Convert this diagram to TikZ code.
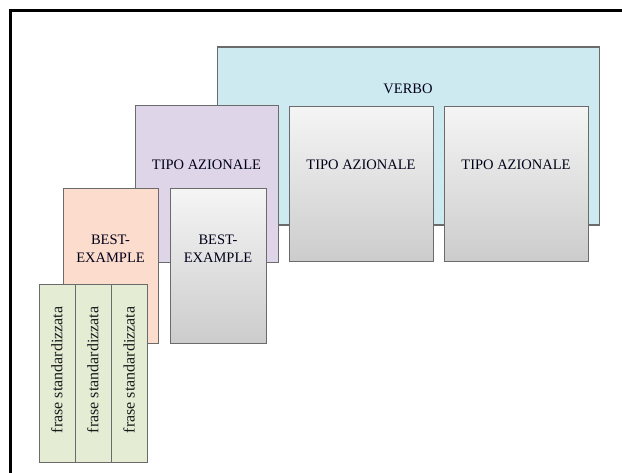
\documentclass[tikz,border=0pt]{standalone}
\usepackage{fontspec}
\setmainfont{Liberation Serif}
\begin{document}
\begin{tikzpicture}[x=1pt,y=-1pt,
  box/.style={draw=black!58, line width=1.2pt, anchor=north west, inner sep=0pt},
  graybox/.style={box, top color=black!4, bottom color=black!20, shading angle=0},
  lbl/.style={font=\fontsize{14.5}{18}\selectfont, text=black!90!blue, align=center, inner sep=0pt},
  vlbl/.style={font=\fontsize{16}{18}\selectfont, text=black!90, rotate=90, inner sep=0pt}
]
\useasboundingbox (0,0) rectangle (622,473);
\fill[white] (0,0) rectangle (622,473);
% outer frame (top and left edges)
\draw[line width=3pt, line cap=rect] (10.5,473) |- (622,10.5);

% VERBO
\node[box, fill={rgb,255:red,205;green,234;blue,240}, minimum width=382, minimum height=178] (verbo) at (217,46.5) {};
\node[lbl] (verbot) at (408,89) {VERBO};

% TIPO AZIONALE boxes
\node[graybox, minimum width=144, minimum height=155] (tipo2) at (289,106) {};
\node[lbl] (tipo2t) at (361,165) {TIPO AZIONALE};
\node[graybox, minimum width=144, minimum height=155] (tipo3) at (444,106) {};
\node[lbl] (tipo3t) at (516,165) {TIPO AZIONALE};

% purple TIPO AZIONALE
\node[box, fill={rgb,255:red,222;green,214;blue,232}, minimum width=143, minimum height=157] (tipo1) at (135,105) {};
\node[lbl] (tipo1t) at (206.5,165) {TIPO AZIONALE};

% orange BEST-EXAMPLE
\node[box, fill={rgb,255:red,252;green,220;blue,204}, minimum width=95, minimum height=155] (best1) at (63,188) {};
\node[lbl] (best1t) at (110.5,249) {BEST-\\EXAMPLE};

% gray BEST-EXAMPLE
\node[graybox, minimum width=96, minimum height=155] (best2) at (170,188) {};
\node[lbl] (best2t) at (218,249) {BEST-\\EXAMPLE};

% frase standardizzata strips
\foreach \i/\x/\w in {1/39/35.5, 2/74.5/36.5, 3/111/36} {
  \node[box, fill={rgb,255:red,228;green,236;blue,212}, minimum width=\w, minimum height=178] (frase\i) at (\x,284) {};
  \node[vlbl] (frase\i t) at (\x+\w/2,370) {frase standardizzata};
}
\end{tikzpicture}
\end{document}
